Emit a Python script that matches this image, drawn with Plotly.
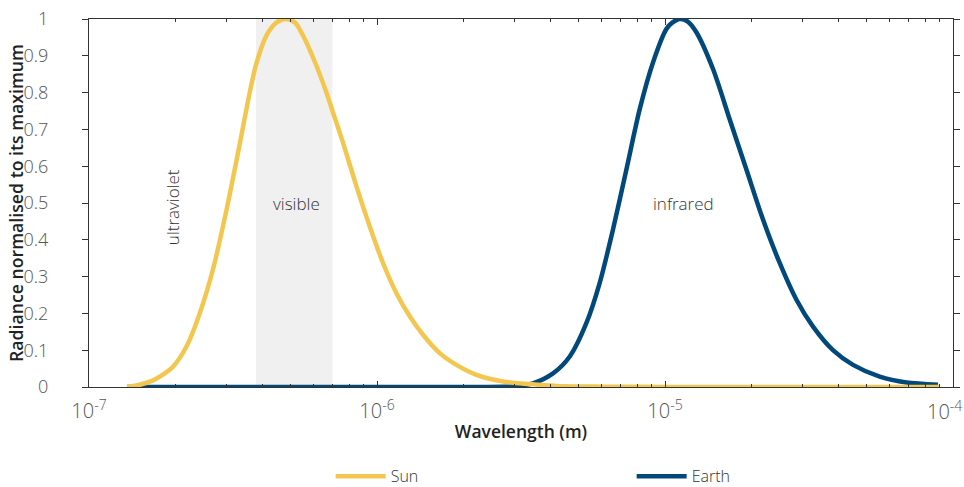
import math
import plotly.graph_objects as go

# Wavelength (m) and normalised radiance
sun_wl = [1.355e-7, 1.5e-7, 1.668e-7, 1.8e-7, 1.957e-7, 2.18e-7, 2.423e-7, 2.695e-7, 3.0e-7,
          3.337e-7, 3.614e-7, 3.814e-7, 4.13e-7, 4.474e-7, 4.83e-7, 5.2e-7, 5.535e-7,
          6.16e-7, 6.673e-7, 7.035e-7, 7.62e-7, 8.48e-7, 9.43e-7, 1.049e-6, 1.168e-6,
          1.299e-6, 1.444e-6, 1.651e-6, 1.887e-6, 2.214e-6, 2.739e-6, 3.39e-6, 4.2e-6,
          6e-6, 1e-5, 2e-5, 4e-5, 9e-5]
sun_val = [0.0, 0.006, 0.018, 0.033, 0.055, 0.11, 0.20, 0.32, 0.48,
           0.66, 0.80, 0.88, 0.955, 0.99, 1.0, 0.99, 0.955,
           0.873, 0.80, 0.746, 0.664, 0.546, 0.437, 0.337, 0.255,
           0.192, 0.142, 0.092, 0.060, 0.033, 0.015, 0.008, 0.003,
           0.001, 0.0003, 0.0, 0.0, 0.0]

earth_wl = [1.355e-7, 1e-6, 2e-6, 3e-6, 3.48e-6, 4.085e-6, 4.67e-6, 5.336e-6, 5.934e-6,
            6.598e-6, 7.345e-6, 8.17e-6, 9.085e-6, 1.0113e-5, 1.06e-5, 1.1246e-5, 1.2e-5,
            1.285e-5, 1.468e-5, 1.678e-5, 1.917e-5, 2.189e-5, 2.502e-5, 2.86e-5,
            3.266e-5, 3.83e-5, 4.496e-5, 5.567e-5, 6.89e-5, 8.87e-5]
earth_val = [0.0, 0.0, 0.0, 0.002, 0.01, 0.037, 0.083, 0.174, 0.283,
             0.428, 0.591, 0.755, 0.882, 0.973, 0.99, 1.0, 0.993,
             0.964, 0.864, 0.727, 0.591, 0.455, 0.337, 0.237,
             0.164, 0.10, 0.06, 0.028, 0.012, 0.006]

visible_band = [3.8e-7, 7.0e-7]

x_tickvals = [1e-7, 1e-6, 1e-5, 1e-4]
x_ticktext = ["10<sup>-7</sup>", "10<sup>-6</sup>", "10<sup>-5</sup>", ""]
last_x_label = "10<sup>-4</sup>"
y_tickvals = [0, 0.1, 0.2, 0.3, 0.4, 0.5, 0.6, 0.7, 0.8, 0.9, 1]
y_ticktext = ["0", "0.1", "0.2", "0.3", "0.4", "0.5", "0.6", "0.7", "0.8", "0.9", "1"]
y_title = "Radiance normalised to its maximum"

region_labels = ["ultraviolet", "visible", "infrared"]
region_x = [1.953e-7, 5.24e-7, 1.155e-5]
region_y = [0.488, 0.50, 0.50]
region_angle = [-90, 0, 0]

SUN = "#f3c74f"
EARTH = "#00497a"
FONT = "Open Sans"

fig = go.Figure()
fig.add_trace(go.Scatter(x=earth_wl, y=earth_val, mode="lines", name="Earth",
                         line=dict(color=EARTH, width=4.5, shape="spline", smoothing=0.8)))
fig.add_trace(go.Scatter(x=sun_wl, y=sun_val, mode="lines", name="Sun",
                         line=dict(color=SUN, width=4.5, shape="spline", smoothing=0.8)))

fig.add_shape(type="rect", xref="x", yref="y", x0=visible_band[0], x1=visible_band[1],
              y0=0, y1=1, fillcolor="#f0f0f0", line=dict(width=0), layer="below")

for t, xv, yv, a in zip(region_labels, region_x, region_y, region_angle):
    fig.add_annotation(x=math.log10(xv), y=yv, xref="x", yref="y", text=t,
                       showarrow=False, textangle=a,
                       font=dict(family=FONT, size=17, color="#333333", weight=300))

# last decade label kept inside the page, as in the reference
fig.add_annotation(x=1.0, y=0, xref="paper", yref="paper", text=last_x_label,
                   showarrow=False, xanchor="right", yanchor="middle",
                   xshift=11, yshift=-23,
                   font=dict(family=FONT, size=20, color="#555555", weight=300))

# y-axis title
fig.add_annotation(x=0, y=0.5, xref="paper", yref="paper", text=y_title,
                   showarrow=False, textangle=-90, xanchor="center", yanchor="middle",
                   xshift=-73,
                   font=dict(family=FONT, size=17.7, color="#222222", weight=600))

fig.update_layout(
    width=964, height=487,
    margin=dict(l=89, r=11, t=19, b=100),
    plot_bgcolor="white", paper_bgcolor="white",
    font=dict(family=FONT, color="#555555"),
    showlegend=True,
    legend=dict(orientation="h", xref="container", yref="container",
                x=0.343, xanchor="left", y=0.022, yanchor="middle",
                traceorder="reversed", entrywidth=236, entrywidthmode="pixels",
                itemwidth=50,
                font=dict(family=FONT, size=16, color="#333333", weight=300)),
)

fig.update_xaxes(
    type="log", range=[-7, -4], automargin=False,
    tickvals=x_tickvals, ticktext=x_ticktext, ticklabeloverflow="allow",
    ticks="inside", ticklen=6, tickcolor="#333333", tickwidth=1,
    minor=dict(ticks="inside", ticklen=3, tickcolor="#333333", dtick="D1", showgrid=False),
    showline=True, linecolor="#333333", linewidth=1.3, mirror="allticks",
    showgrid=False, zeroline=False,
    tickfont=dict(family=FONT, size=20, color="#555555", weight=300),
    ticklabelstandoff=6,
    title=dict(text="Wavelength (m)", standoff=2,
               font=dict(family=FONT, size=17.5, color="#222222", weight=600)),
)
fig.update_yaxes(
    range=[0, 1], tickvals=y_tickvals, ticktext=y_ticktext, automargin=False,
    ticks="outside", ticklen=6, tickcolor="#333333", tickwidth=1,
    showline=True, linecolor="#333333", linewidth=1.3, mirror="allticks",
    showgrid=False, zeroline=False,
    tickfont=dict(family=FONT, size=18, color="#555555", weight=300),
    ticklabelstandoff=30,
)

fig.write_html("out.html", config={"displayModeBar": False},
               post_script="document.body.style.margin='0';")
